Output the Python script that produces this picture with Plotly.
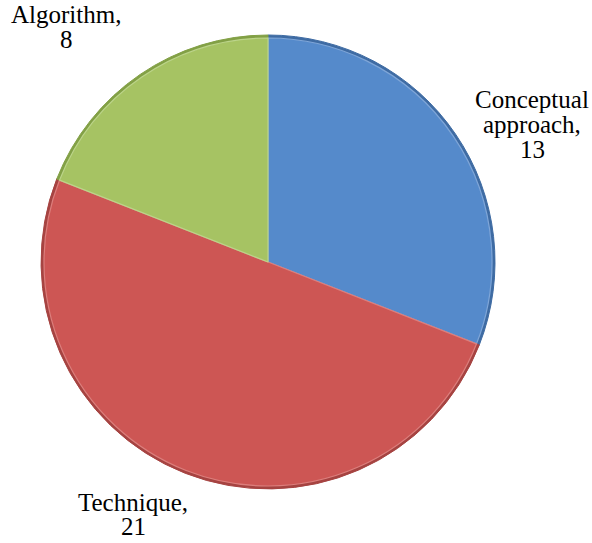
import plotly.graph_objects as go

# Counts per category of contribution
categories = ["Conceptual approach", "Technique", "Algorithm"]
counts = [13, 21, 8]
colors = ["#558ACB", "#CD5654", "#A6C363"]
rim_colors = ["#3E6BA3", "#A64341", "#82A045"]
highlight_colors = ["#7FA6D8", "#DC7E7C", "#BCD48A"]

W, H = 592, 543
cx, cy, r = 268, 262, 227
bevel = 3

# Outside label anchors in pixels: (centre x, centre y of first line, line gap)
label_px = [(532, 100, 25), (133, 502, 24), (66, 14, 25)]


def disc_domain(radius):
    return dict(x=[(cx - radius) / W, (cx + radius) / W],
                y=[1 - (cy + radius) / H, 1 - (cy - radius) / H])


fig = go.Figure()
# darker rim underneath, giving a bevelled outer edge
fig.add_trace(go.Pie(
    labels=categories, values=counts, sort=False, direction="clockwise", rotation=0,
    textinfo="none", hoverinfo="skip",
    marker=dict(colors=rim_colors, line=dict(color=rim_colors, width=1)),
    domain=disc_domain(r), showlegend=False,
))
# main face of each slice
fig.add_trace(go.Pie(
    labels=categories, values=counts, sort=False, direction="clockwise", rotation=0,
    textinfo="none", hoverinfo="label+value",
    marker=dict(colors=colors, line=dict(color=highlight_colors, width=1.2)),
    domain=disc_domain(r - bevel), showlegend=False,
))

for name, val, (px, py, gap) in zip(categories, counts, label_px):
    words = name.split(" ")
    lines = words[:-1] + [words[-1] + ","]
    lines.append(str(val))
    for i, line in enumerate(lines):
        fig.add_annotation(
            x=px / W, y=1 - (py + i * gap) / H, xref="paper", yref="paper",
            text=line, showarrow=False,
            font=dict(family="Liberation Serif", size=25, color="black"),
            xanchor="center", yanchor="middle",
        )

fig.update_layout(
    width=W, height=H,
    margin=dict(l=0, r=0, t=0, b=0),
    font=dict(family="Liberation Serif", color="black"),
    paper_bgcolor="white",
    plot_bgcolor="white",
)

fig.write_html("out.html")
